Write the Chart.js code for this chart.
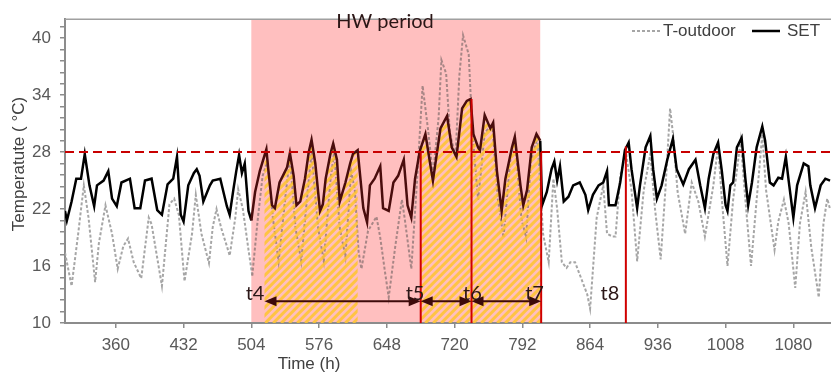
<!DOCTYPE html>
<html>
<head>
<meta charset="utf-8">
<script src="https://cdn.jsdelivr.net/npm/chart.js@4.4.1/dist/chart.umd.min.js"></script>
<style>
  html, body { margin: 0; padding: 0; background: #fff; }
  #wrap { width: 831px; height: 376px; }
</style>
</head>
<body>
<div id="wrap"><canvas id="chart"></canvas></div>
<script>
// values (hours / degrees C)
const SET_HOURS = [306,308,313,318,323,327,332,337,340,347,352,356,361,366,375,380,386,391,398,404,409,415,421,425,429,432,437,443,446,449,453,460,463,471,478,481,485,488,491,494,497,501,504,508,513,520,522,526,529,534,542,545,549,552,556,561,565,568,572,577,580,583,588,591,595,598,604,609,612,617,623,627,630,635,641,644,650,655,660,666,670,674,678,683,689,694,697,705,712,717,722,728,733,737,740,745,747,752,758,761,765,770,774,781,784,790,793,797,802,807,811,813,818,823,826,829,832,836,841,846,853,859,862,867,873,878,882,884,891,896,901,905,908,914,917,923,928,931,935,940,946,952,956,963,969,976,981,986,990,995,1000,1004,1008,1010,1013,1016,1020,1025,1029,1032,1036,1041,1047,1050,1055,1059,1064,1068,1072,1075,1080,1084,1091,1096,1098,1103,1109,1114,1119];
const SET_VALUES = [21.8,20.8,22.8,25.2,25.2,27.8,24.5,22.3,24.5,25.0,26.0,23.1,22.3,24.8,25.2,22.1,22.1,25.0,25.2,21.9,21.4,24.6,25.2,27.5,21.4,20.7,24.5,25.8,26.2,25.5,22.8,24.5,25.0,25.2,22.3,21.4,24.1,26.0,27.7,25.8,26.8,21.8,20.8,23.8,26.0,28.3,26.2,22.4,22.1,24.8,26.4,27.9,25.5,22.4,22.8,25.2,28.0,29.3,26.8,21.8,22.5,25.2,27.8,28.9,27.2,22.8,24.8,26.8,27.8,28.2,22.1,20.6,24.5,25.2,26.5,22.1,21.8,24.8,25.5,27.2,22.4,21.1,25.2,28.1,29.9,26.8,25.0,30.5,31.8,28.5,27.5,32.6,33.4,33.6,29.9,28.5,28.2,31.9,30.5,31.1,26.0,21.8,25.2,28.5,29.6,24.5,22.4,24.0,28.5,29.9,29.2,22.4,23.8,26.2,27.0,25.0,26.5,22.8,23.3,24.5,24.8,23.5,21.9,23.5,24.5,24.8,26.0,22.4,22.4,24.8,28.2,29.0,26.2,22.1,24.5,28.5,29.7,26.2,23.1,24.5,27.2,29.4,26.2,24.6,26.2,27.2,24.5,22.1,25.2,27.8,29.0,26.0,22.4,21.8,24.5,24.8,28.5,29.5,25.2,22.4,24.8,28.5,30.7,29.2,24.8,24.5,25.3,25.2,27.5,25.0,21.1,24.5,26.8,26.5,24.5,22.1,24.5,25.2,25.0];

const OUT_HOURS = [306,313,320,326,331,338,342,349,356,362,368,373,379,387,395,398,409,417,422,427,433,441,445,451,459,463,467,472,478,481,487,490,495,501,505,511,516,521,527,533,541,545,551,557,564,568,575,581,588,592,598,604,610,614,618,621,628,637,641,646,650,657,664,667,674,680,686,692,697,703,706,711,715,721,725,729,735,739,745,752,760,766,772,779,784,791,796,801,808,814,820,825,829,834,839,843,848,853,861,864,871,878,882,888,891,896,902,908,914,921,928,933,939,944,949,952,957,965,972,979,986,995,1000,1004,1010,1016,1024,1029,1035,1041,1047,1051,1060,1064,1070,1075,1082,1087,1093,1099,1107,1112,1116,1119];
const OUT_VALUES = [17.4,13.9,19.4,24.5,21.1,14.3,18.4,22.4,19.4,15.7,18.1,18.9,16.4,14.7,21.1,20.4,13.9,22.5,23.1,21.4,14.4,19.4,23.5,19.4,16.3,20.1,22.0,20.0,18.1,17.1,21.1,24.1,22.0,17.7,15.0,21.1,25.5,27.0,21.0,16.5,24.0,27.5,20.0,16.5,24.0,28.0,20.0,16.5,25.0,28.0,20.0,17.0,26.0,24.0,17.5,15.7,19.7,21.2,19.0,15.4,12.7,18.1,23.0,21.0,15.7,24.8,35.0,30.2,25.5,31.6,37.7,36.3,30.0,27.5,36.0,40.3,38.3,30.0,23.0,30.0,31.0,23.0,19.0,27.0,29.5,21.0,19.0,27.0,29.5,19.4,16.4,25.2,22.0,16.4,15.8,16.4,16.4,15.1,13.0,11.5,21.1,24.5,19.4,19.1,19.1,25.5,28.0,24.0,16.5,24.0,27.8,22.0,16.7,24.0,32.6,30.0,23.8,19.4,24.8,22.8,19.1,24.5,28.7,23.0,16.0,23.0,29.2,23.0,16.0,23.0,29.9,24.0,17.7,20.7,23.0,20.5,13.7,20.5,23.8,18.0,12.7,20.5,23.1,22.0];

const X_TICKS = [360,432,504,576,648,720,792,864,936,1008,1080];
const Y_LABELS = [10,16,22,28,34,40];
const Y_MINOR = 1.2;
const THRESHOLD = 28;
const HW_PERIOD = [504, 811];
const HATCH_RANGES = [[518, 617], [684, 812]];
const EVENT_HOURS = [684, 738, 812, 902];
const EVENT_TOPS = [28, 33.6, 28, 28.6];
const ARROWS = [[518, 684], [684, 738], [738, 812]];
const ARROW_LEVEL = 12.3;
const TAGS = ['t4', 't5', 't6', 't7', 't8'];
const TAG_HOURS = [508, 678, 739, 805, 885];
const TAG_LEVEL = 13.1;

const Y_TICKS = [];
for (let v = 10; v <= 42; v += Y_MINOR) Y_TICKS.push(+v.toFixed(1));

const SANS = "'Liberation Sans', Arial, sans-serif";
const LABEL_FONT = "Lato, 'Open Sans', sans-serif";

function inHW(seg) {
  return seg.p0.parsed.x >= HW_PERIOD[0] && seg.p1.parsed.x <= HW_PERIOD[1];
}

function drawHatch(chart) {
  const { ctx, chartArea: a, scales: { x } } = chart;
  const pts = chart.getDatasetMeta(1).data;
  ctx.save();
  ctx.beginPath();
  HATCH_RANGES.forEach(([h0, h1]) => {
    const x0 = x.getPixelForValue(h0), x1 = x.getPixelForValue(h1);
    ctx.rect(x0, a.top, x1 - x0, a.bottom - a.top);
  });
  ctx.clip();
  ctx.beginPath();
  ctx.moveTo(pts[0].x, a.bottom);
  pts.forEach(p => ctx.lineTo(p.x, p.y));
  ctx.lineTo(pts[pts.length - 1].x, a.bottom);
  ctx.closePath();
  ctx.clip();
  const h = a.bottom - a.top;
  ctx.strokeStyle = 'rgba(255,196,45,0.85)';
  ctx.lineWidth = 3;
  ctx.beginPath();
  for (let s = a.left - h; s < a.right; s += 8) {
    ctx.moveTo(s, a.bottom);
    ctx.lineTo(s + h, a.top);
  }
  ctx.stroke();
  ctx.restore();
}

function arrowHead(ctx, x, y, dir) {
  ctx.beginPath();
  ctx.moveTo(x, y);
  ctx.lineTo(x + dir * 12, y - 5);
  ctx.lineTo(x + dir * 12, y + 5);
  ctx.closePath();
  ctx.fill();
}

const decor = {
  id: 'decor',
  beforeDatasetsDraw(chart) {
    const { ctx, chartArea: a, scales: { x } } = chart;
    const x0 = x.getPixelForValue(HW_PERIOD[0]), x1 = x.getPixelForValue(HW_PERIOD[1]);
    ctx.save();
    ctx.fillStyle = '#ffbfbf';
    ctx.fillRect(x0, a.top, x1 - x0, a.bottom - a.top - 1);
    ctx.restore();
  },
  beforeDatasetDraw(chart, args) {
    if (args.index === 1) drawHatch(chart);
  },
  afterDraw(chart) {
    const { ctx, chartArea: a, scales: { x, y } } = chart;
    ctx.save();

    // top frame line
    ctx.strokeStyle = '#a0a0a0';
    ctx.lineWidth = 1.5;
    ctx.beginPath();
    ctx.moveTo(a.left, a.top);
    ctx.lineTo(a.right, a.top);
    ctx.stroke();

    // threshold
    const ty = y.getPixelForValue(THRESHOLD);
    ctx.strokeStyle = '#c80000';
    ctx.lineWidth = 2;
    ctx.setLineDash([9, 5]);
    ctx.beginPath();
    ctx.moveTo(a.left, ty);
    ctx.lineTo(a.right, ty);
    ctx.stroke();
    ctx.setLineDash([]);

    // event lines
    ctx.strokeStyle = '#d00000';
    ctx.lineWidth = 2;
    EVENT_HOURS.forEach((h, i) => {
      const px = x.getPixelForValue(h);
      ctx.beginPath();
      ctx.moveTo(px, a.bottom);
      ctx.lineTo(px, y.getPixelForValue(EVENT_TOPS[i]));
      ctx.stroke();
    });

    // arrows
    const ay = y.getPixelForValue(ARROW_LEVEL);
    ctx.strokeStyle = '#3d0a0a';
    ctx.fillStyle = '#3d0a0a';
    ctx.lineWidth = 2;
    ARROWS.forEach(([h0, h1]) => {
      const x0 = x.getPixelForValue(h0), x1 = x.getPixelForValue(h1);
      ctx.beginPath();
      ctx.moveTo(x0 + 8, ay);
      ctx.lineTo(x1 - 8, ay);
      ctx.stroke();
      arrowHead(ctx, x0, ay, 1);
      arrowHead(ctx, x1, ay, -1);
    });

    // t labels
    ctx.fillStyle = '#2b1616';
    ctx.font = '20px ' + LABEL_FONT;
    ctx.textAlign = 'center';
    ctx.textBaseline = 'middle';
    TAGS.forEach((t, i) => {
      ctx.fillText(t, x.getPixelForValue(TAG_HOURS[i]), y.getPixelForValue(TAG_LEVEL));
    });
    ctx.fillText('HW period', 385, 22);

    // axis titles
    ctx.fillStyle = '#404040';
    ctx.font = '17px ' + SANS;
    ctx.fillText('Time (h)', 309, 364);
    ctx.save();
    ctx.translate(19, 164);
    ctx.rotate(-Math.PI / 2);
    ctx.fillText('Temperatute ( \u00B0C)', 0, 0);
    ctx.restore();

    // legend
    ctx.lineWidth = 2;
    ctx.strokeStyle = '#a6a6a6';
    ctx.setLineDash([3, 2]);
    ctx.beginPath();
    ctx.moveTo(632, 31);
    ctx.lineTo(660, 31);
    ctx.stroke();
    ctx.setLineDash([]);
    ctx.strokeStyle = '#000';
    ctx.lineWidth = 2.5;
    ctx.beginPath();
    ctx.moveTo(752, 31);
    ctx.lineTo(780, 31);
    ctx.stroke();
    ctx.fillStyle = '#404040';
    ctx.textAlign = 'left';
    ctx.fillText('T-outdoor', 663, 31);
    ctx.fillText('SET', 787, 31);

    ctx.restore();
  }
};

new Chart(document.getElementById('chart'), {
  type: 'line',
  data: {
    datasets: [
      {
        label: 'T-outdoor',
        data: OUT_HOURS.map((h, i) => ({ x: h, y: OUT_VALUES[i] })),
        borderColor: '#a6a6a6',
        borderWidth: 2,
        borderDash: [3, 2],
        pointRadius: 0,
        order: 1,
        segment: { borderColor: s => inHW(s) ? '#a88686' : undefined }
      },
      {
        label: 'SET',
        data: SET_HOURS.map((h, i) => ({ x: h, y: SET_VALUES[i] })),
        borderColor: '#000000',
        borderWidth: 2.5,
        pointRadius: 0,
        order: 0,
        segment: { borderColor: s => inHW(s) ? '#4a0d0d' : undefined }
      }
    ]
  },
  plugins: [decor],
  options: {
    responsive: true,
    maintainAspectRatio: false,
    animation: false,
    layout: { padding: { top: 7, left: 0, right: 0, bottom: 0 } },
    plugins: { legend: { display: false }, tooltip: { enabled: false } },
    scales: {
      x: {
        type: 'linear',
        min: 306,
        max: 1120,
        afterBuildTicks: s => { s.ticks = X_TICKS.map(v => ({ value: v })); },
        afterFit: s => { s.height = 53; },
        ticks: {
          autoSkip: false, maxRotation: 0, padding: 7, color: '#595959',
          font: { family: SANS, size: 17 },
          callback: v => String(v)
        },
        grid: { drawOnChartArea: false, drawTicks: true, tickLength: 5, color: '#8c8c8c', lineWidth: 1.5 },
        border: { color: '#8c8c8c', width: 2 }
      },
      y: {
        min: 10,
        max: 42,
        afterBuildTicks: s => { s.ticks = Y_TICKS.map(v => ({ value: v })); },
        afterFit: s => { s.width = 65; },
        ticks: {
          autoSkip: false,
          padding: 9,
          color: '#595959',
          font: { family: SANS, size: 17 },
          callback: v => Y_LABELS.includes(v) ? String(v) : ''
        },
        grid: { drawOnChartArea: false, drawTicks: true, tickLength: 5, color: '#8c8c8c', lineWidth: 1.5 },
        border: { color: '#8c8c8c', width: 2 }
      }
    }
  }
});
</script>
</body>
</html>
